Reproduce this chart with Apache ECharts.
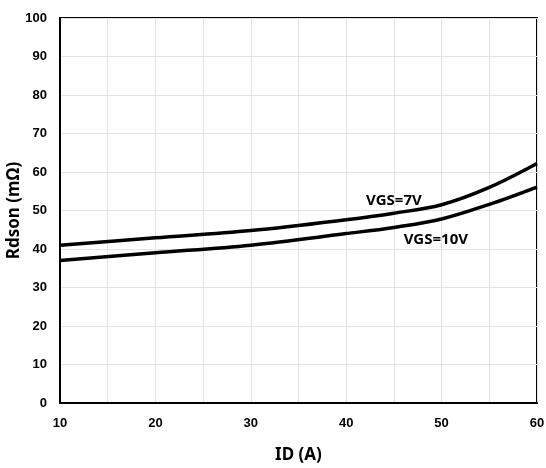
<!DOCTYPE html>
<html><head><meta charset="utf-8">
<script src="https://cdn.jsdelivr.net/npm/echarts@6/dist/echarts.min.js"></script>
<style>html,body{margin:0;padding:0;background:#fff}#c{width:546px;height:468px}</style>
</head><body><div id="c"></div>
<script>
const idValues = [10, 20, 30, 40, 45, 50, 55, 60];
const rdsonVgs7 = [41, 42.9, 44.8, 47.6, 49.3, 51.5, 56, 62.2];
const rdsonVgs10 = [37, 39, 41, 44, 45.6, 47.8, 51.6, 56.1];
const labelVgs7 = {text: 'VGS=7V', x: 45.0, y: 52.6};
const labelVgs10 = {text: 'VGS=10V', x: 49.4, y: 42.4};

const tickFont = {color: '#000', fontFamily: '"Liberation Sans Narrow","Liberation Sans",Arial,sans-serif', fontWeight: 'bold', fontSize: 13};
const titleFont = {color: '#000', fontFamily: '"Noto Sans",sans-serif', fontWeight: 'bold', fontSize: 17};
function pairs(xs, ys) { return xs.map((x, i) => [x, ys[i]]); }
function mk(lbl) {
  return {
    symbol: 'circle', symbolSize: 1, silent: true,
    itemStyle: {color: 'rgba(0,0,0,0)'},
    data: [{coord: [lbl.x, lbl.y], value: lbl.text}],
    label: {show: true, position: 'inside', formatter: lbl.text, color: '#000',
      fontFamily: '"Noto Sans",sans-serif', fontWeight: 'bold', fontSize: 15}
  };
}
const chart = echarts.init(document.getElementById('c'), null, {renderer: 'canvas'});
chart.setOption({
  animation: false,
  backgroundColor: '#fff',
  grid: {left: 60, right: 9, top: 18, bottom: 65, show: true, borderColor: '#000', borderWidth: 2,
         containLabel: false, outerBoundsMode: 'none'},
  xAxis: {
    type: 'value', min: 10, max: 60, interval: 5,
    name: 'ID (A)', nameLocation: 'middle', nameGap: 44, nameMoveOverlap: false,
    nameTextStyle: titleFont,
    axisLine: {show: true, lineStyle: {color: '#000', width: 2}},
    axisTick: {show: false},
    axisLabel: Object.assign({margin: 14, formatter: v => (v % 10 === 0 ? String(v) : '')}, tickFont),
    splitLine: {show: true, lineStyle: {color: '#e3e3e3', width: 1}}
  },
  yAxis: {
    type: 'value', min: 0, max: 100, interval: 10,
    name: 'Rdson (mΩ)', nameLocation: 'middle', nameGap: 37, nameRotate: 90, nameMoveOverlap: false,
    nameTextStyle: titleFont,
    axisLine: {show: true, lineStyle: {color: '#000', width: 2}},
    axisTick: {show: false},
    axisLabel: Object.assign({margin: 13}, tickFont),
    splitLine: {show: true, lineStyle: {color: '#e3e3e3', width: 1}}
  },
  series: [
    {type: 'line', data: pairs(idValues, rdsonVgs7), smooth: 0.35, symbol: 'none',
     lineStyle: {color: '#000', width: 3.5}, markPoint: mk(labelVgs7)},
    {type: 'line', data: pairs(idValues, rdsonVgs10), smooth: 0.35, symbol: 'none',
     lineStyle: {color: '#000', width: 3.5}, markPoint: mk(labelVgs10)}
  ]
});
</script></body></html>
